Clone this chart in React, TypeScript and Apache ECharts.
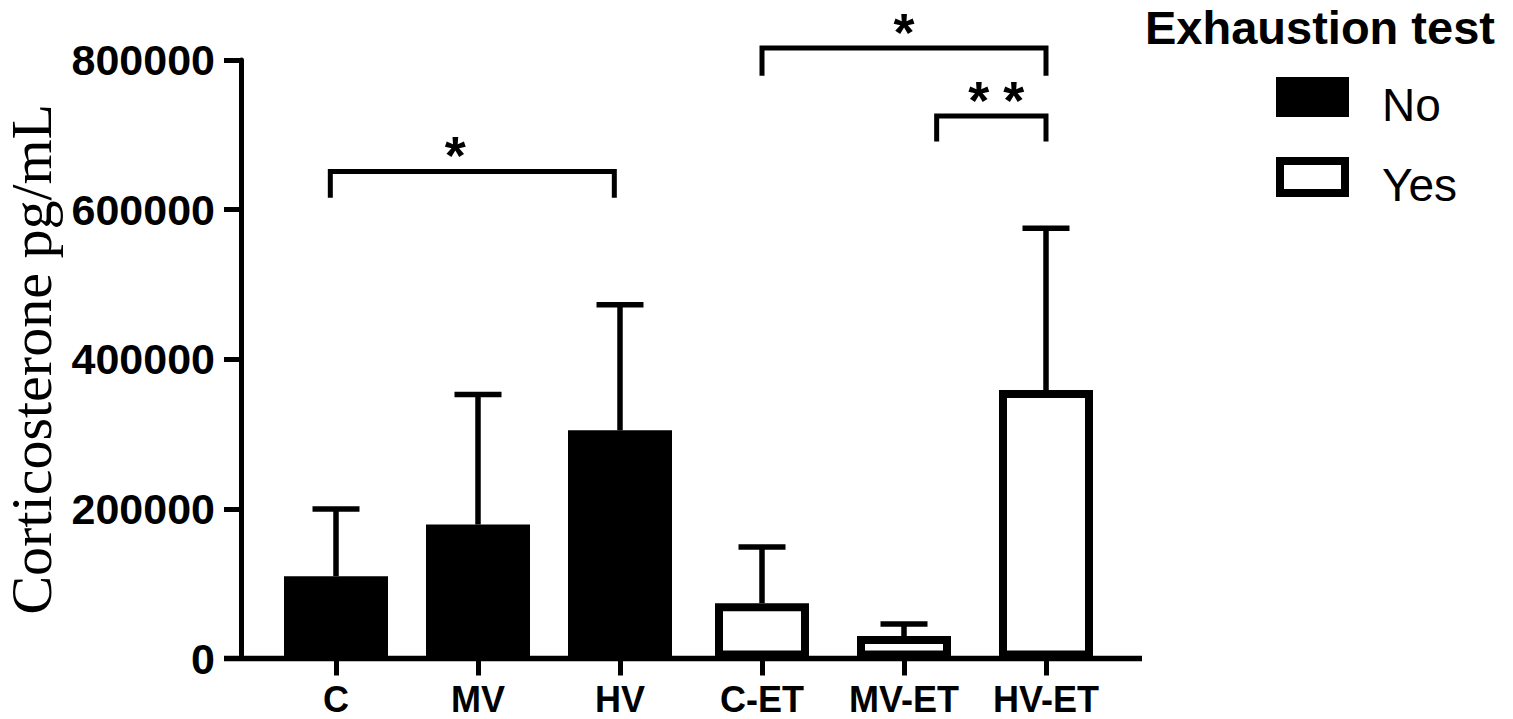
import { useEffect, useRef } from "react";
import * as echarts from "echarts";

const categories = ["C", "MV", "HV", "C-ET", "MV-ET", "HV-ET"];
const noValues: (number | string)[] = [110000, 179000, 305000, "-", "-", "-"];
const yesValues: (number | string)[] = ["-", "-", "-", 74000, 30000, 359000];
const sdValues = [90000, 174000, 168000, 75000, 16000, 216000];
const yMin = 0;
const yMax = 800000;
const yInterval = 200000;
const seriesNames = ["No", "Yes"];
const legendTitle = "Exhaustion test";
const yTitle = "Corticosterone pg/mL";
// significance brackets: [from (category units), to, top value, leg end value, label position, label]
const brackets: [number, number, number, number, number, string][] = [
  [-0.04, 1.96, 651000, 616000, 0.84, "*"],
  [3.0, 5.0, 816000, 779000, 4.0, "*"],
  [4.23, 5.0, 725000, 691000, 4.65, "**"],
];

export default function App() {
  const ref = useRef<HTMLDivElement>(null);
  useEffect(() => {
    if (!ref.current) return;
    const chart = echarts.init(ref.current, undefined, { renderer: "svg" });
    const errData = categories.map((_, i) => {
      const m = typeof noValues[i] === "number" ? (noValues[i] as number) : (yesValues[i] as number);
      return [i, m, sdValues[i]];
    });
    const font = "Liberation Sans";
    chart.setOption({
      animation: false,
      backgroundColor: "#fff",
      title: {
        text: legendTitle,
        left: 1145,
        top: 7,
        padding: 0,
        textStyle: { fontSize: 47, lineHeight: 40, fontWeight: "bold", fontFamily: font, color: "#000" },
      },
      legend: {
        orient: "vertical",
        left: 1276,
        top: 77,
        padding: 0,
        itemGap: 29,
        itemWidth: 65,
        itemHeight: 32,
        icon: "rect",
        selectedMode: false,
        formatter: (name: string) => `{t|${name}}`,
        textStyle: {
          fontSize: 46,
          fontFamily: font,
          color: "#000",
          rich: { t: { fontSize: 46, fontFamily: font, color: "#000", padding: [16, 0, 0, 32] } },
        },
        data: [
          { name: seriesNames[0], itemStyle: { color: "#000", borderColor: "#000", borderWidth: 8 } },
          { name: seriesNames[1], itemStyle: { color: "#fff", borderColor: "#000", borderWidth: 8 } },
        ],
      },
      grid: { left: 265, right: 396, top: 60, bottom: 60.5, containLabel: false, outerBoundsMode: "none" },
      xAxis: [
        {
          type: "category",
          data: categories,
          axisLine: { show: false },
          axisTick: { show: true, alignWithLabel: true, length: 17, lineStyle: { color: "#000", width: 5 } },
          axisLabel: {
            interval: 0,
            hideOverlap: false,
            fontSize: 36,
            fontWeight: "bold",
            fontFamily: font,
            color: "#000",
            margin: 23,
          },
          splitLine: { show: false },
        },
        { type: "category", data: categories, show: false, position: "bottom" },
      ],
      yAxis: {
        type: "value",
        min: yMin,
        max: yMax,
        interval: yInterval,
        offset: 24,
        axisLine: { show: true, lineStyle: { color: "#000", width: 5 } },
        axisTick: { show: true, length: 17, lineStyle: { color: "#000", width: 5 } },
        axisLabel: {
          fontSize: 43,
          fontWeight: "bold",
          fontFamily: font,
          color: "#000",
          margin: 26,
          formatter: (v: number) => String(v),
        },
        splitLine: { show: false },
        name: yTitle,
        nameLocation: "middle",
        nameGap: 180,
        nameTextStyle: { fontFamily: "Liberation Serif", fontSize: 58, color: "#000" },
      },
      series: [
        {
          name: seriesNames[0],
          type: "bar",
          xAxisIndex: 0,
          data: noValues,
          barWidth: 104,
          itemStyle: { color: "#000" },
        },
        {
          name: seriesNames[1],
          type: "bar",
          xAxisIndex: 1,
          data: yesValues,
          barWidth: 94,
          itemStyle: { color: "#fff", borderColor: "#000", borderWidth: 8 },
        },
        {
          name: "error",
          type: "custom",
          xAxisIndex: 0,
          data: errData,
          encode: { x: 0, y: 1 },
          z: 3,
          renderItem: (params: any, api: any) => {
            const i = api.value(0);
            const m = api.value(1);
            const s = api.value(2);
            const base = api.coord([i, m]);
            const top = api.coord([i, m + s]);
            const half = 23.5;
            return {
              type: "group",
              children: [
                { type: "line", shape: { x1: base[0], y1: base[1], x2: base[0], y2: top[1] }, style: { stroke: "#000", lineWidth: 5.5 } },
                { type: "line", shape: { x1: base[0] - half, y1: top[1], x2: base[0] + half, y2: top[1] }, style: { stroke: "#000", lineWidth: 5.5 } },
              ],
            };
          },
        },
        {
          name: "significance",
          type: "custom",
          xAxisIndex: 0,
          data: brackets.map((b) => [Math.round(b[0]), b[2]]),
          encode: { x: 0, y: 1 },
          clip: false,
          z: 4,
          renderItem: (params: any, api: any) => {
            const b = brackets[params.dataIndex];
            const band = api.size([1, 0])[0];
            const px = (pos: number) => {
              const i = Math.round(pos);
              return api.coord([i, 0])[0] + (pos - i) * band;
            };
            const yTop = api.coord([0, b[2]])[1];
            const yLeg = api.coord([0, b[3]])[1];
            const x1 = px(b[0]);
            const x2 = px(b[1]);
            const lx = px(b[4]);
            const stars = b[5].split("");
            const spacing = 35;
            const children: any[] = [
              {
                type: "polyline",
                shape: { points: [[x1, yLeg], [x1, yTop], [x2, yTop], [x2, yLeg]] },
                style: { stroke: "#000", lineWidth: 5, fill: "none", lineJoin: "miter" },
              },
            ];
            stars.forEach((ch, k) => {
              children.push({
                type: "text",
                x: lx + (k - (stars.length - 1) / 2) * spacing,
                y: yTop - 16,
                style: {
                  text: ch,
                  fontSize: 54,
                  lineHeight: 30,
                  fontWeight: "bold",
                  fontFamily: font,
                  fill: "#000",
                  align: "center",
                  verticalAlign: "middle",
                },
              });
            });
            return { type: "group", children };
          },
        },
      ],
      graphic: [
        {
          type: "line",
          z: 100,
          shape: { x1: 224, y1: 658.5, x2: 1142, y2: 658.5 },
          style: { stroke: "#000", lineWidth: 5.5 },
        },
      ],
    });
    return () => chart.dispose();
  }, []);
  return <div ref={ref} style={{ position: "fixed", left: 0, top: 0, width: 1513, height: 719, background: "#fff" }} />;
}
